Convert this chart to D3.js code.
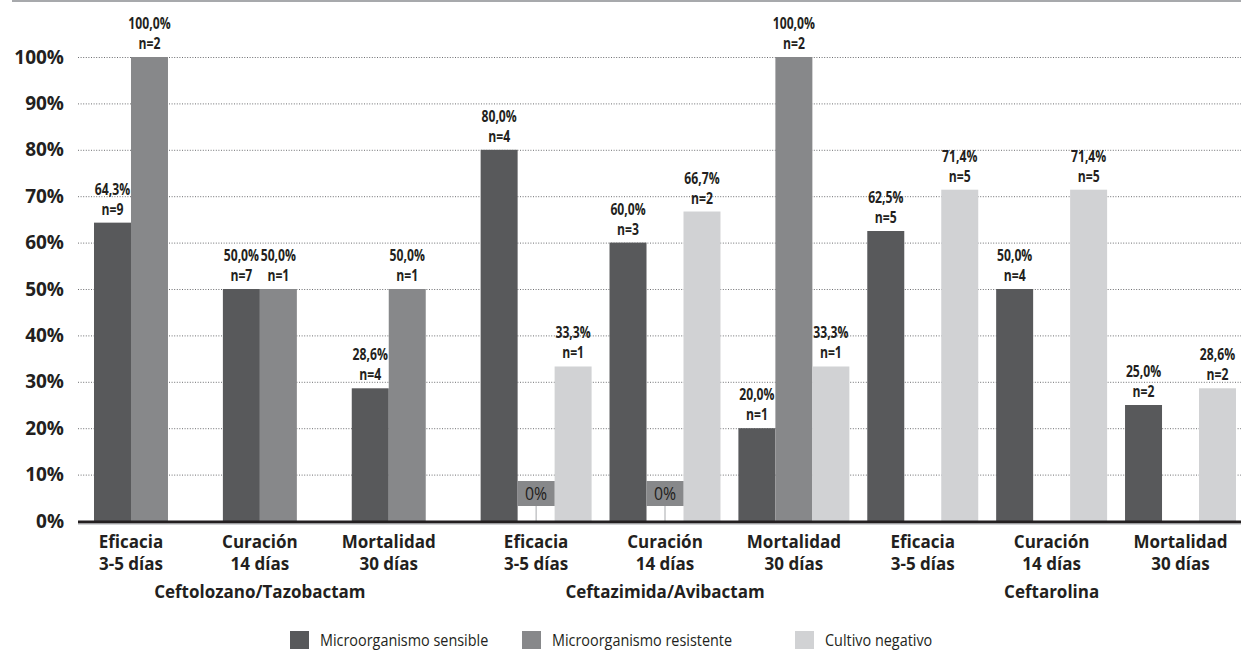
<!DOCTYPE html>
<html lang="es">
<head>
<meta charset="utf-8">
<script src="https://cdn.jsdelivr.net/npm/d3@7"></script>
<style>
  html, body { margin: 0; padding: 0; background: #ffffff; }
  svg { display: block; font-family: "Open Sans", "Noto Sans", sans-serif; }
</style>
</head>
<body>
<svg id="chart" width="1241" height="653"></svg>
<script>
// Outcome categories (two text lines each) and the antibiotic each belongs to
const categories = [
  ["Eficacia", "3-5 días"], ["Curación", "14 días"], ["Mortalidad", "30 días"],
  ["Eficacia", "3-5 días"], ["Curación", "14 días"], ["Mortalidad", "30 días"],
  ["Eficacia", "3-5 días"], ["Curación", "14 días"], ["Mortalidad", "30 días"]
];
const treatments = ["Ceftolozano/Tazobactam", "Ceftazimida/Avibactam", "Ceftarolina"];
const treatmentOfCategory = [0, 0, 0, 1, 1, 1, 2, 2, 2];

const seriesNames = ["Microorganismo sensible", "Microorganismo resistente", "Cultivo negativo"];

// Percentages per series (null = not reported)
const sensibleValues   = [64.3, 50.0, 28.6, 80.0, 60.0, 20.0, 62.5, 50.0, 25.0];
const resistenteValues = [100.0, 50.0, 50.0, 0, 0, 100.0, null, null, null];
const cultivoValues    = [null, null, null, 33.3, 66.7, 33.3, 71.4, 71.4, 28.6];

// Patient counts per series
const sensibleN   = [9, 7, 4, 4, 3, 1, 5, 4, 2];
const resistenteN = [2, 1, 1, 0, 0, 2, null, null, null];
const cultivoN    = [null, null, null, 1, 2, 1, 5, 5, 2];

const yTicks = [0, 10, 20, 30, 40, 50, 60, 70, 80, 90, 100];

const seriesValues = [sensibleValues, resistenteValues, cultivoValues];
const seriesN = [sensibleN, resistenteN, cultivoN];
const colors = ["#58595b", "#87888a", "#d1d2d4"];
const textColor = "#231f20";

const svg = d3.select("#chart");
const W = 1241;
const plotLeft = 78;

const x0 = d3.scaleBand()
  .domain(d3.range(categories.length))
  .range([94, 1236])
  .paddingInner(0.139)
  .paddingOuter(0);

const x1 = d3.scaleBand()
  .domain(d3.range(seriesNames.length))
  .range([0, x0.bandwidth()])
  .padding(0);

const y = d3.scaleLinear().domain([0, 100]).range([521, 57]);

const fmtPct = v => d3.format(".1f")(v).replace(".", ",") + "%";

// Thin rule across the top
svg.append("line")
  .attr("x1", 12).attr("x2", W)
  .attr("y1", 1).attr("y2", 1)
  .attr("stroke", "#a7a9ac").attr("stroke-width", 2);

// Y axis with dotted grid lines
const yAxis = svg.append("g")
  .attr("transform", `translate(${plotLeft},0)`)
  .call(d3.axisLeft(y)
    .tickValues(yTicks)
    .tickFormat(d => d + "%")
    .tickSizeInner(-(W - plotLeft))
    .tickSizeOuter(0)
    .tickPadding(14));
yAxis.select(".domain").remove();
yAxis.selectAll(".tick line")
  .attr("stroke", "#6d6e71")
  .attr("stroke-width", 1)
  .attr("stroke-dasharray", "1,1.6")
  .attr("opacity", d => d === 0 ? 0 : 1);
yAxis.selectAll(".tick text")
  .attr("fill", textColor)
  .style("font-family", "'Open Sans', sans-serif")
  .style("font-weight", 700)
  .style("font-size", "19px");

// Bars
const bars = svg.append("g");
categories.forEach((c, i) => {
  seriesValues.forEach((vals, s) => {
    const v = vals[i];
    if (v === null || v === 0) return;
    bars.append("rect")
      .attr("x", x0(i) + x1(s))
      .attr("width", x1.bandwidth())
      .attr("y", y(v))
      .attr("height", y(0) - y(v))
      .attr("fill", colors[s]);
  });
});

// Value labels (percentage and n), set in a condensed bold
const labels = svg.append("g")
  .attr("text-anchor", "middle")
  .attr("fill", textColor)
  .style("font-weight", 700)
  .style("font-size", "16px");
const condensed = (g, cx, cy, txt) =>
  g.append("text")
    .attr("transform", `translate(${cx},${cy}) scale(0.76,1)`)
    .text(txt);

categories.forEach((c, i) => {
  seriesValues.forEach((vals, s) => {
    const v = vals[i];
    if (v === null) return;
    const cx = x0(i) + x1(s) + x1.bandwidth() / 2;
    if (v === 0) {
      // zero value: flag box with a leader line down to the axis
      const bx = x0(i) + x1(s);
      const top = y(0) - 40;
      svg.append("line")
        .attr("x1", cx).attr("x2", cx)
        .attr("y1", top + 25).attr("y2", y(0))
        .attr("stroke", "#a7a9ac").attr("stroke-width", 1);
      svg.append("rect")
        .attr("x", bx).attr("y", top)
        .attr("width", x1.bandwidth()).attr("height", 25)
        .attr("fill", colors[1]);
      svg.append("text")
        .attr("transform", `translate(${cx},${top + 19}) scale(0.88,1)`)
        .attr("text-anchor", "middle")
        .attr("fill", textColor)
        .style("font-size", "18px")
        .style("font-weight", 400)
        .text(fmtPct(v).replace(",0", ""));
      return;
    }
    condensed(labels, cx, y(v) - 28, fmtPct(v));
    condensed(labels, cx, y(v) - 8, "n=" + seriesN[s][i]);
  });
});

// Baseline
svg.append("line")
  .attr("x1", plotLeft).attr("x2", W)
  .attr("y1", y(0) + 1).attr("y2", y(0) + 1)
  .attr("stroke", "#231f20").attr("stroke-width", 3);
svg.append("line")
  .attr("x1", plotLeft).attr("x2", W)
  .attr("y1", y(0) + 3).attr("y2", y(0) + 3)
  .attr("stroke", "#a7a9ac").attr("stroke-width", 1);

// Category label position: centre of the span covered by reported bars
const labelX = categories.map((c, i) => {
  const present = seriesValues.map((vals, s) => s).filter(s => seriesValues[s][i] !== null);
  const left = x0(i) + x1(d3.min(present));
  const right = x0(i) + x1(d3.max(present)) + x1.bandwidth();
  return (left + right) / 2;
});

const xLabels = svg.append("g")
  .attr("text-anchor", "middle")
  .attr("fill", textColor)
  .style("font-weight", 700)
  .style("font-size", "17px");
categories.forEach((c, i) => {
  const t = xLabels.append("text").attr("x", labelX[i]).attr("y", 548);
  t.append("tspan").attr("x", labelX[i]).text(c[0]);
  t.append("tspan").attr("x", labelX[i]).attr("dy", 22).text(c[1]);
});

// Treatment names under the middle category of each block
treatments.forEach((name, g) => {
  const idx = treatmentOfCategory.indexOf(g) + 1;
  xLabels.append("text")
    .attr("x", labelX[idx]).attr("y", 598)
    .text(name);
});

// Legend
const legendX = [290, 522, 795];
const legend = svg.append("g");
seriesNames.forEach((name, s) => {
  legend.append("rect")
    .attr("x", legendX[s]).attr("y", 631)
    .attr("width", 19).attr("height", 18)
    .attr("fill", colors[s]);
  legend.append("text")
    .attr("transform", `translate(${legendX[s] + 30},646) scale(0.93,1)`)
    .attr("fill", textColor)
    .style("font-size", "15.5px")
    .text(name);
});
</script>
</body>
</html>
